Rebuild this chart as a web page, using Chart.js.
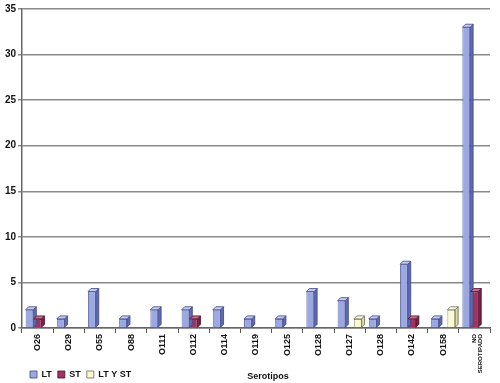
<!DOCTYPE html>
<html>
<head>
<meta charset="utf-8">
<script src="https://cdn.jsdelivr.net/npm/chart.js@4.4.1/dist/chart.umd.min.js"></script>
<style>
  html, body { margin: 0; padding: 0; background: #fff; }
  #wrap { width: 500px; height: 383px; }
</style>
</head>
<body>
<div id="wrap"><canvas id="chart"></canvas></div>
<script>
// chart data
const serotipos = ['O26', 'O29', 'O55', 'O88', 'O111', 'O112', 'O114', 'O119', 'O125',
                   'O128', 'O127', 'O128', 'O142', 'O158', ['NO', 'SEROTIPADO']];
const lt   = [2, 1, 4, 1, 2, 2, 2, 1, 1, 4, 3, 1, 7, 1, 33];
const st   = [1, 0, 0, 0, 0, 1, 0, 0, 0, 0, 0, 0, 1, 0, 4];
const ltSt = [0, 0, 0, 0, 0, 0, 0, 0, 0, 0, 1, 0, 0, 2, 0];
const yTicks = [0, 5, 10, 15, 20, 25, 30, 35];

const FONT = "'Liberation Sans', Arial, sans-serif";

// fake 3D: draw a side and a top face on each bar
const depthPlugin = {
    id: 'depth',
    afterDatasetsDraw(chart) {
        const ctx = chart.ctx;
        const d = 3;
        chart.data.datasets.forEach((ds, i) => {
            const meta = chart.getDatasetMeta(i);
            meta.data.forEach((bar, j) => {
                if (!ds.data[j]) return;
                const { x, y, base, width } = bar.getProps(['x', 'y', 'base', 'width'], true);
                const l = x - width / 2, r = x + width / 2;
                ctx.save();
                ctx.fillStyle = ds.sideColor;
                ctx.strokeStyle = ds.borderColor;
                ctx.lineWidth = 0.8;
                ctx.beginPath();
                ctx.moveTo(r, y); ctx.lineTo(r + d, y - d); ctx.lineTo(r + d, base - d); ctx.lineTo(r, base);
                ctx.closePath(); ctx.fill(); ctx.stroke();
                ctx.fillStyle = ds.topColor;
                ctx.beginPath();
                ctx.moveTo(l, y); ctx.lineTo(l + d, y - d); ctx.lineTo(r + d, y - d); ctx.lineTo(r, y);
                ctx.closePath(); ctx.fill(); ctx.stroke();
                ctx.restore();
            });
        });
    }
};

// legend sits a bit further in and lower than chart.js puts it
const legendShift = {
    id: 'legendShift',
    afterUpdate(chart) {
        const lg = chart.legend;
        lg.left += 22; lg.right += 22;
        lg.top += 6; lg.bottom += 6;
    }
};

// axis title sits on the same row as the legend
const titlePlugin = {
    id: 'sideTitle',
    afterDraw(chart) {
        const ctx = chart.ctx;
        const lg = chart.legend;
        ctx.save();
        ctx.font = 'bold 9px ' + FONT;
        ctx.fillStyle = '#111';
        ctx.textAlign = 'center';
        ctx.textBaseline = 'middle';
        ctx.fillText('Serotipos', 268, lg.top + lg.height / 2);
        ctx.restore();
    }
};

new Chart(document.getElementById('chart'), {
    type: 'bar',
    data: {
        labels: serotipos,
        datasets: [
            { label: 'LT', data: lt, backgroundColor: '#9ba8e2', borderColor: '#3d4585',
              sideColor: '#5f6bb0', topColor: '#c3cbf0', borderWidth: 0.8 },
            { label: 'ST', data: st, backgroundColor: '#a3325f', borderColor: '#4a1028',
              sideColor: '#7a1f44', topColor: '#c86b8e', borderWidth: 0.8 },
            { label: 'LT Y ST', data: ltSt, backgroundColor: '#fbfbd2', borderColor: '#6b6b55',
              sideColor: '#d8d8a8', topColor: '#ffffe8', borderWidth: 0.8 }
        ]
    },
    options: {
        responsive: true,
        maintainAspectRatio: false,
        animation: false,
        layout: { padding: { top: 9, right: 10, left: 2, bottom: 0 } },
        datasets: { bar: { categoryPercentage: 0.78, barPercentage: 0.95 } },
        plugins: {
            tooltip: { enabled: false },
            legend: {
                position: 'bottom',
                align: 'start',
                labels: {
                    font: { family: FONT, size: 9, weight: 'bold' },
                    color: '#111',
                    boxWidth: 7,
                    boxHeight: 7,
                    padding: 6
                }
            }
        },
        scales: {
            x: {
                grid: { drawOnChartArea: false, drawTicks: true, tickLength: 5, color: '#555' },
                border: { display: true, color: '#666', width: 1.5 },
                ticks: {
                    color: '#111',
                    maxRotation: 90,
                    minRotation: 90,
                    padding: 1,
                    autoSkip: false,
                    font: (c) => (c.index === 14
                        ? { family: FONT, size: 6, weight: 'bold', lineHeight: 1 }
                        : { family: FONT, size: 9, weight: 'bold' })
                },
                afterFit: (s) => {
                    s.height = 30;
                    // let the long rotated label run into the legend row, as in the original
                    s._computeLabelArea = () => undefined;
                }
            },
            y: {
                min: 0,
                max: 35,
                afterBuildTicks: (s) => { s.ticks = yTicks.map(v => ({ value: v })); },
                grid: { color: '#8a8a8a', lineWidth: 1.5, tickLength: 4, drawTicks: true },
                border: { display: true, color: '#666', width: 1.5 },
                ticks: {
                    color: '#111',
                    padding: 2,
                    font: { family: FONT, size: 10, weight: 'bold' }
                },
                afterFit: (s) => { s.width = 20; }
            }
        }
    },
    plugins: [depthPlugin, legendShift, titlePlugin]
});
</script>
</body>
</html>
